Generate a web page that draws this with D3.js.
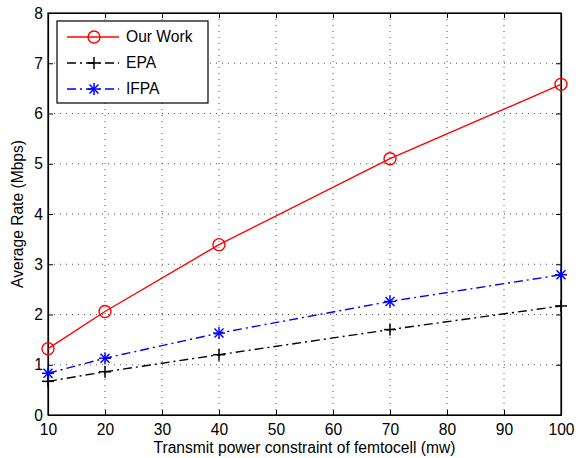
<!DOCTYPE html>
<html>
<head>
<meta charset="utf-8">
<script src="https://cdn.jsdelivr.net/npm/d3@7"></script>
<style>
body { margin: 0; background: #fff; }
svg text { font-family: "Liberation Sans", Arial, sans-serif; }
</style>
</head>
<body>
<script>
// data
var power = [10, 20, 40, 70, 100];
var ourWork = [1.32, 2.06, 3.39, 5.10, 6.58];
var epa = [0.67, 0.86, 1.20, 1.70, 2.17];
var ifpa = [0.83, 1.13, 1.63, 2.26, 2.79];
var xTicks = [10, 20, 30, 40, 50, 60, 70, 80, 90, 100];
var yTicks = [0, 1, 2, 3, 4, 5, 6, 7, 8];

var width = 583,
	height = 458,
	margin = { top: 13, right: 22, bottom: 43, left: 48 };

var fontSize = 15.6;

var svg = d3.select('body').append('svg')
	.attr('width', width)
	.attr('height', height);

var w = width - margin.left - margin.right,
	h = height - margin.top - margin.bottom;

var xScale = d3.scaleLinear().domain([10, 100]).range([0, w]),
	yScale = d3.scaleLinear().domain([0, 8]).range([h, 0]);

var g = svg.append('g')
	.attr('transform', 'translate(' + margin.left + ',' + margin.top + ')');

// dotted grid
g.selectAll('.vgrid')
	.data(xTicks.slice(1, -1))
	.enter().append('line')
	.attr('x1', function(d) { return xScale(d); })
	.attr('x2', function(d) { return xScale(d); })
	.attr('y1', 0).attr('y2', h)
	.attr('stroke', '#555').attr('stroke-width', 1)
	.attr('stroke-dasharray', '1,5');

g.selectAll('.hgrid')
	.data(yTicks.slice(1, -1))
	.enter().append('line')
	.attr('y1', function(d) { return yScale(d); })
	.attr('y2', function(d) { return yScale(d); })
	.attr('x1', 0).attr('x2', w)
	.attr('stroke', '#555').attr('stroke-width', 1)
	.attr('stroke-dasharray', '1,5');

// axes, ticks pointing inward like matlab
var xAxis = d3.axisBottom(xScale).tickValues(xTicks).tickSizeInner(-5).tickSizeOuter(0).tickPadding(9),
	yAxis = d3.axisLeft(yScale).tickValues(yTicks).tickSizeInner(-5).tickSizeOuter(0).tickPadding(5);

g.append('g')
	.attr('class', 'axis axis--x')
	.attr('transform', 'translate(0,' + h + ')')
	.call(xAxis);

g.append('g')
	.attr('class', 'axis axis--y')
	.call(yAxis);

g.append('g')
	.call(d3.axisTop(xScale).tickValues(xTicks).tickSizeInner(-5).tickSizeOuter(0).tickFormat(''));

g.append('g')
	.attr('transform', 'translate(' + w + ',0)')
	.call(d3.axisRight(yScale).tickValues(yTicks).tickSizeInner(-5).tickSizeOuter(0).tickFormat(''));

g.selectAll('.domain').attr('stroke', '#000').attr('stroke-width', 1.2);
g.selectAll('.tick line').attr('stroke', '#000');
g.selectAll('.tick text').attr('font-size', fontSize).attr('fill', '#000');

// box
g.append('rect')
	.attr('width', w).attr('height', h)
	.attr('fill', 'none').attr('stroke', '#000').attr('stroke-width', 1.2);

// axis labels
svg.append('text')
	.attr('x', margin.left + w / 2)
	.attr('y', 453)
	.attr('text-anchor', 'middle')
	.attr('font-size', fontSize)
	.text('Transmit power constraint of femtocell (mw)');

svg.append('text')
	.attr('transform', 'translate(23,' + (margin.top + h / 2) + ') rotate(-90)')
	.attr('text-anchor', 'middle')
	.attr('font-size', fontSize)
	.text('Average Rate (Mbps)');

var series = [
	{ name: 'Our Work', values: ourWork, color: '#ff0000', dash: null, marker: 'circle' },
	{ name: 'EPA', values: epa, color: '#000000', dash: '9,4,2,4', marker: 'plus' },
	{ name: 'IFPA', values: ifpa, color: '#0000ff', dash: '9,4,2,4', marker: 'star' }
];

var line = d3.line()
	.x(function(d) { return xScale(d[0]); })
	.y(function(d) { return yScale(d[1]); });

function drawMarker(sel, type, color) {
	if (type === 'circle') {
		sel.append('circle').attr('r', 6).attr('fill', 'none')
			.attr('stroke', color).attr('stroke-width', 1.4);
	} else {
		var s = 6;
		var segs = [[-s, 0, s, 0], [0, -s, 0, s]];
		if (type === 'star') {
			var d = s * 0.75;
			segs.push([-d, -d, d, d], [-d, d, d, -d]);
		}
		segs.forEach(function(p) {
			sel.append('line')
				.attr('x1', p[0]).attr('y1', p[1]).attr('x2', p[2]).attr('y2', p[3])
				.attr('stroke', color).attr('stroke-width', 1.5);
		});
	}
}

series.forEach(function(s) {
	var pts = power.map(function(p, i) { return [p, s.values[i]]; });
	g.append('path')
		.datum(pts)
		.attr('d', line)
		.attr('fill', 'none')
		.attr('stroke', s.color)
		.attr('stroke-width', 1.4)
		.attr('stroke-dasharray', s.dash);

	g.selectAll('.m-' + s.marker)
		.data(pts)
		.enter().append('g')
		.attr('class', 'm-' + s.marker)
		.attr('transform', function(d) { return 'translate(' + xScale(d[0]) + ',' + yScale(d[1]) + ')'; })
		.each(function() { drawMarker(d3.select(this), s.marker, s.color); });
});

// legend
var legend = svg.append('g').attr('transform', 'translate(57,21)');
legend.append('rect')
	.attr('width', 151).attr('height', 82)
	.attr('fill', '#fff').attr('stroke', '#000').attr('stroke-width', 1.2);

series.forEach(function(s, i) {
	var y = 16 + i * 26;
	legend.append('line')
		.attr('x1', 10).attr('x2', 62).attr('y1', y).attr('y2', y)
		.attr('stroke', s.color).attr('stroke-width', 1.4)
		.attr('stroke-dasharray', s.dash);
	drawMarker(legend.append('g').attr('transform', 'translate(37,' + y + ')'), s.marker, s.color);
	legend.append('text')
		.attr('x', 69).attr('y', y + 5)
		.attr('font-size', fontSize)
		.text(s.name);
});
</script>
</body>
</html>
